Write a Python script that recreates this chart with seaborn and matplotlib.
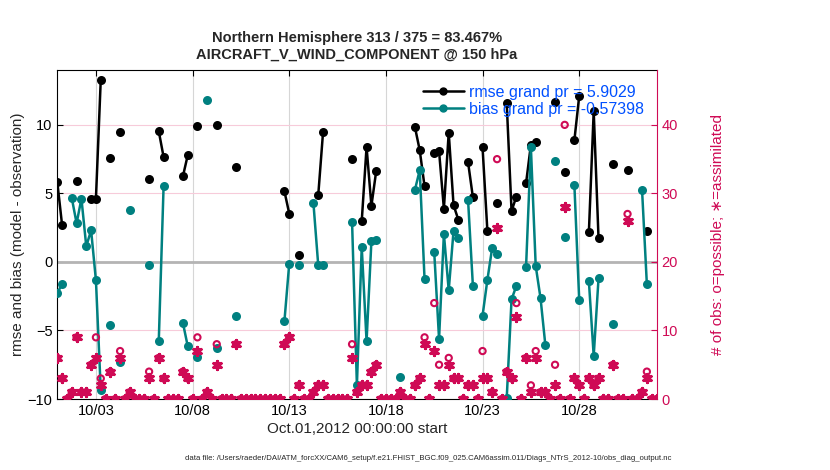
import numpy as np
import pandas as pd
import matplotlib
matplotlib.use("Agg")
import matplotlib.pyplot as plt
from matplotlib.lines import Line2D
import seaborn as sns

# 6-hourly bins from Oct.01,2012 00Z to Nov.01,2012 00Z
NBINS = 125
BIN_DAYS = 0.25

rmse_bins = [0, 1, 4, 7, 8, 9, 11, 13, 19, 21, 22, 26, 27, 29, 33, 37, 47, 48, 50,
             54, 55, 61, 63, 64, 65, 66, 74, 75, 76, 78, 79, 80, 81, 82, 83, 85, 86,
             88, 89, 91, 93, 94, 95, 97, 98, 99, 103, 105, 107, 108, 110, 111, 112,
             115, 118, 122]
rmse_vals = [5.84, 2.68, 5.9, 4.58, 4.62, 13.3, 7.57, 9.5, 6.06, 9.54, 7.66, 6.25, 7.79,
             9.9, 9.98, 6.91, 5.16, 3.53, 0.49, 4.87, 9.49, 7.54, 2.97, 8.39, 4.09, 6.64,
             9.85, 8.15, 5.52, 7.98, 8.08, 3.88, 9.43, 4.14, 3.07, 7.28, 4.72, 8.35, 2.26,
             4.33, 11.58, 3.72, 4.77, 5.74, 8.54, 8.74, 11.65, 6.55, 8.87, 12.1, 2.15,
             11.0, 1.72, 7.13, 6.69, 2.24]

bias_bins = [0, 1, 3, 4, 5, 6, 7, 8, 9, 11, 13, 15, 19, 21, 22, 26, 27, 29, 31, 33, 37,
             47, 48, 50, 53, 54, 55, 61, 62, 63, 64, 65, 66, 71, 74, 75, 76, 78, 79, 80,
             81, 82, 83, 85, 86, 88, 89, 90, 91, 93, 94, 95, 97, 98, 99, 100, 101, 103,
             105, 107, 108, 110, 111, 112, 115, 121, 122]
bias_vals = [-2.3, -1.58, 4.67, 2.82, 4.62, 1.14, 2.31, -1.34, -9.37, -4.62, -7.3, 3.77,
             -0.24, -5.8, 5.52, -4.45, -6.15, -6.93, 11.8, -6.25, -3.96, -4.33, -0.12,
             -0.24, 4.31, -0.24, -0.24, 2.92, -9.0, 1.09, -5.79, 1.51, 1.58, -8.39, 5.25,
             6.7, -1.27, 0.72, -5.62, 2.05, -2.07, 2.28, 1.73, 4.53, -1.73, -3.92, -1.31,
             1.05, 0.56, -9.95, -2.73, -1.75, -0.39, 8.37, -0.29, -2.65, -6.08, 7.37, 1.8,
             5.63, -2.78, -1.39, -6.86, -1.19, -4.55, 5.28, -1.63]

obs_possible = [6, 3, 0, 1, 9, 1, 1, 5, 9, 3, 0, 4, 0, 7, 0, 1, 0, 0, 0, 4,
                0, 6, 3, 0, 0, 0, 4, 3, 0, 9, 0, 1, 0, 8, 0, 0, 0, 8, 0, 0,
                0, 0, 0, 0, 0, 0, 0, 8, 9, 0, 2, 0, 0, 1, 2, 2, 0, 0, 0, 0,
                0, 8, 1, 2, 2, 4, 5, 0, 0, 0, 0, 1, 0, 0, 2, 3, 9, 0, 14, 5,
                2, 6, 3, 3, 0, 2, 2, 0, 7, 3, 1, 35, 0, 4, 3, 14, 0, 6, 2, 7,
                1, 1, 0, 5, 0, 40, 0, 3, 2, 0, 3, 2, 3, 0, 0, 5, 0, 0, 27, 0,
                0, 1, 4, 0, 0]
obs_assim = [6, 3, 0, 1, 9, 1, 1, 5, 6, 2, 0, 4, 0, 6, 0, 1, 0, 0, 0, 3,
             0, 6, 3, 0, 0, 0, 4, 3, 0, 7, 0, 1, 0, 5, 0, 0, 0, 8, 0, 0,
             0, 0, 0, 0, 0, 0, 0, 8, 9, 0, 2, 0, 0, 1, 2, 2, 0, 0, 0, 0,
             0, 6, 1, 2, 2, 4, 5, 0, 0, 0, 0, 1, 0, 0, 2, 3, 8, 0, 7, 2,
             2, 5, 3, 3, 0, 2, 2, 0, 3, 3, 1, 25, 0, 4, 3, 12, 0, 6, 1, 6,
             1, 1, 0, 2, 0, 28, 0, 3, 2, 0, 3, 2, 3, 0, 0, 5, 0, 0, 26, 0,
             0, 1, 3, 0, 0]

tick_days = [2, 7, 12, 17, 22, 27]
tick_labels = ["10/03", "10/08", "10/13", "10/18", "10/23", "10/28"]

BLACK = "#000000"
TEAL = "#008080"
PINK = "#CF0A55"
BLUE = "#0050FF"

sns.set_style("white")
plt.rcParams["font.family"] = ["Liberation Sans", "DejaVu Sans"]

days = np.arange(NBINS) * BIN_DAYS


def segments(bins, vals):
    """Frame with a segment id so gaps in the bins break the line"""
    series = np.full(NBINS, np.nan)
    series[bins] = vals
    seg = np.cumsum(np.isnan(series))
    df = pd.DataFrame({"day": days, "val": series, "seg": seg})
    return df.dropna()


fig = plt.figure(figsize=(8.3, 4.7), dpi=100)
ax = fig.add_axes([0.069, 0.151, 0.722, 0.70])
ax.axhline(0, color="#B4B4B4", lw=2.0, zorder=1)

for bins, vals, col in [(rmse_bins, rmse_vals, BLACK), (bias_bins, bias_vals, TEAL)]:
    sns.lineplot(data=segments(bins, vals), x="day", y="val", units="seg",
                 estimator=None, sort=False, color=col, lw=1.8, marker="o",
                 markersize=6.5, markeredgecolor=col, markeredgewidth=0,
                 ax=ax, legend=False, zorder=3)

ax.set_xlim(0, 31)
ax.set_ylim(-10, 14)
ax.set_yticks([-10, -5, 0, 5, 10])
ax.set_xticks(tick_days)
ax.set_xticklabels(tick_labels)
ax.xaxis.grid(True, color="#D6D6D6", lw=0.8)
ax.yaxis.grid(True, color="#F7CBDA", lw=0.8)
ax.set_axisbelow(True)
ax.tick_params(direction="in", top=True, length=4, labelsize=10.5, colors=BLACK)
ax.set_xlabel("Oct.01,2012 00:00:00 start", fontsize=11, labelpad=3)
ax.set_ylabel("rmse and bias (model - observation)", fontsize=11, labelpad=2)
ax.set_title("Northern Hemisphere 313 / 375 = 83.467%\nAIRCRAFT_V_WIND_COMPONENT @ 150 hPa",
             fontsize=10.5, fontweight="bold", pad=8, linespacing=1.3)
for side in ["left", "top", "bottom"]:
    ax.spines[side].set_color(BLACK)
    ax.spines[side].set_linewidth(0.8)
ax.spines["right"].set_visible(False)

ax2 = ax.twinx()
sns.scatterplot(x=days, y=obs_possible, marker="o", s=20, facecolor="none",
                edgecolor=PINK, linewidth=1.5, ax=ax2, zorder=4)
sns.scatterplot(x=days, y=obs_assim, marker=(6, 2, 0), s=34, color=PINK,
                edgecolor=PINK, linewidth=2.3, ax=ax2, zorder=5)
ax2.set_ylim(0, 48)
ax2.set_yticks([0, 10, 20, 30, 40])
ax2.set_xlim(0, 31)
ax2.tick_params(direction="in", length=4, labelsize=10.5, colors=PINK)
ax2.set_ylabel("# of obs: o=possible; \u2217=assimilated", fontsize=11, color=PINK, labelpad=24)
ax2.spines["right"].set_color(PINK)
ax2.spines["right"].set_linewidth(0.8)
for side in ["left", "top", "bottom"]:
    ax2.spines[side].set_visible(False)

handles = [Line2D([], [], color=BLACK, lw=1.8, marker="o", markersize=5),
           Line2D([], [], color=TEAL, lw=1.8, marker="o", markersize=5)]
leg = ax2.legend(handles, ["rmse grand pr = 5.9029", "bias grand pr = -0.57398"],
                 loc="upper right", bbox_to_anchor=(0.995, 0.985), frameon=False,
                 fontsize=11.5, handlelength=2.6, handletextpad=0.3,
                 labelspacing=0.15, borderaxespad=0.2)
for txt in leg.get_texts():
    txt.set_color(BLUE)

fig.text(0.516, 0.022,
         "data file: /Users/raeder/DAI/ATM_forcXX/CAM6_setup/f.e21.FHIST_BGC.f09_025."
         "CAM6assim.011/Diags_NTrS_2012-10/obs_diag_output.nc",
         ha="center", fontsize=5.6)

fig.savefig("out.png", dpi=100)
